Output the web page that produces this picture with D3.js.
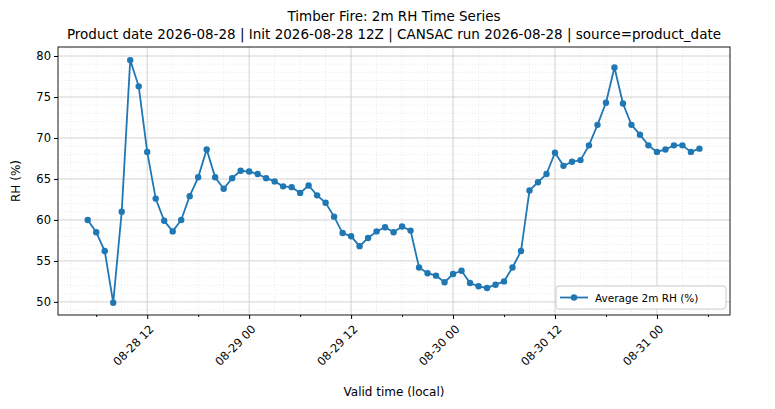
<!DOCTYPE html><html><head><script src="https://cdn.jsdelivr.net/npm/d3@7"></script>
<style>body{margin:0;background:#fff}text{font-family:"DejaVu Sans",sans-serif}</style></head><body><svg id="c" width="775" height="409"></svg>
<script>
const startTime = "2026-08-28T05:00";
const rhValues = [60.0,58.5,56.2,49.9,61.0,79.5,76.3,68.3,62.6,59.9,58.6,60.0,62.9,65.2,68.6,65.2,63.8,65.1,66.0,
65.9,65.6,65.1,64.7,64.1,64.0,63.3,64.2,63.0,62.1,60.4,58.4,58.0,56.8,57.8,58.6,59.1,58.5,59.2,58.7,54.2,53.5,53.2,52.4,
53.4,53.8,52.3,51.9,51.7,52.1,52.5,54.2,56.2,63.6,64.6,65.6,68.2,66.6,67.1,67.3,69.1,71.6,74.3,78.6,74.2,71.6,70.4,69.1,
68.3,68.6,69.1,69.1,68.3,68.7];
const yTicks = [50,55,60,65,70,75,80];
const t0 = new Date(startTime);
const data = rhValues.map((v,i)=>({t:new Date(t0.getTime()+i*3600e3),v}));
const svg=d3.select("#c");
const L=58,R=730,T=47,B=315;
const x=d3.scaleTime().domain([new Date("2026-08-28T01:30"),new Date("2026-08-31T08:36")]).range([L,R]);
const y=d3.scaleLinear().domain([48.4,81.1]).range([B,T]);
const g=svg.append("g");
const minorX=d3.timeHour.every(3).range(x.domain()[0],x.domain()[1]);
const majorX=d3.timeHour.every(12).range(x.domain()[0],x.domain()[1]);
const minorY=d3.range(49,82,1);
minorX.forEach(d=>g.append("line").attr("x1",x(d)).attr("x2",x(d)).attr("y1",T).attr("y2",B).attr("stroke","#ddd").attr("stroke-width",0.6).attr("stroke-dasharray","1,2"));
minorY.forEach(d=>g.append("line").attr("y1",y(d)).attr("y2",y(d)).attr("x1",L).attr("x2",R).attr("stroke","#ddd").attr("stroke-width",0.6).attr("stroke-dasharray","1,2"));
majorX.forEach(d=>g.append("line").attr("x1",x(d)).attr("x2",x(d)).attr("y1",T).attr("y2",B).attr("stroke","#ccc").attr("stroke-width",0.8));
yTicks.forEach(d=>g.append("line").attr("y1",y(d)).attr("y2",y(d)).attr("x1",L).attr("x2",R).attr("stroke","#ccc").attr("stroke-width",0.8));
svg.append("path").datum(data).attr("fill","none").attr("stroke","#1f77b4").attr("stroke-width",1.8)
 .attr("d",d3.line().x(d=>x(d.t)).y(d=>y(d.v)));
svg.selectAll("circle.p").data(data).join("circle").attr("cx",d=>x(d.t)).attr("cy",d=>y(d.v)).attr("r",3.2).attr("fill","#1f77b4");
svg.append("rect").attr("x",L).attr("y",T).attr("width",R-L).attr("height",B-T).attr("fill","none").attr("stroke","#000").attr("stroke-width",0.9);
const fmt=d3.timeFormat("%m-%d %H");
const xa=svg.append("g").attr("transform",`translate(0,${B})`).call(d3.axisBottom(x).tickValues(majorX).tickFormat(fmt).tickSize(4).tickPadding(3));
xa.select(".domain").remove();
xa.selectAll("text").attr("font-size",11.5).attr("fill","#000").attr("text-anchor","end").attr("y",0).attr("dy","0.35em").attr("transform","translate(4,12) rotate(-45)");
svg.append("g").attr("transform",`translate(0,${B})`).call(d3.axisBottom(x).tickValues(minorX.filter(d=>d.getHours()%6===0&&d.getHours()%12)).tickFormat("").tickSize(2)).select(".domain").remove();
const ya=svg.append("g").attr("transform",`translate(${L},0)`).call(d3.axisLeft(y).tickValues(yTicks).tickSize(4).tickPadding(3));
ya.select(".domain").remove();ya.selectAll("text").attr("font-size",11.5).attr("fill","#000");
svg.append("text").attr("x",394).attr("y",21).attr("text-anchor","middle").attr("font-size",13.5).text("Timber Fire: 2m RH Time Series");
svg.append("text").attr("x",394).attr("y",39).attr("text-anchor","middle").attr("font-size",13.5).text("Product date 2026-08-28 | Init 2026-08-28 12Z | CANSAC run 2026-08-28 | source=product_date");
svg.append("text").attr("x",394).attr("y",396).attr("text-anchor","middle").attr("font-size",12).text("Valid time (local)");
svg.append("text").attr("transform",`translate(20,${(T+B)/2}) rotate(-90)`).attr("text-anchor","middle").attr("font-size",12).text("RH (%)");
const lg=svg.append("g");
lg.append("rect").attr("x",556).attr("y",286).attr("width",170).attr("height",23).attr("fill","#fff").attr("stroke","#ccc").attr("rx",3);
lg.append("line").attr("x1",560).attr("x2",588).attr("y1",297.5).attr("y2",297.5).attr("stroke","#1f77b4").attr("stroke-width",1.8);
lg.append("circle").attr("cx",574).attr("cy",297.5).attr("r",3.2).attr("fill","#1f77b4");
lg.append("text").attr("x",595).attr("y",301.5).attr("font-size",10.5).text("Average 2m RH (%)");
</script></body></html>
